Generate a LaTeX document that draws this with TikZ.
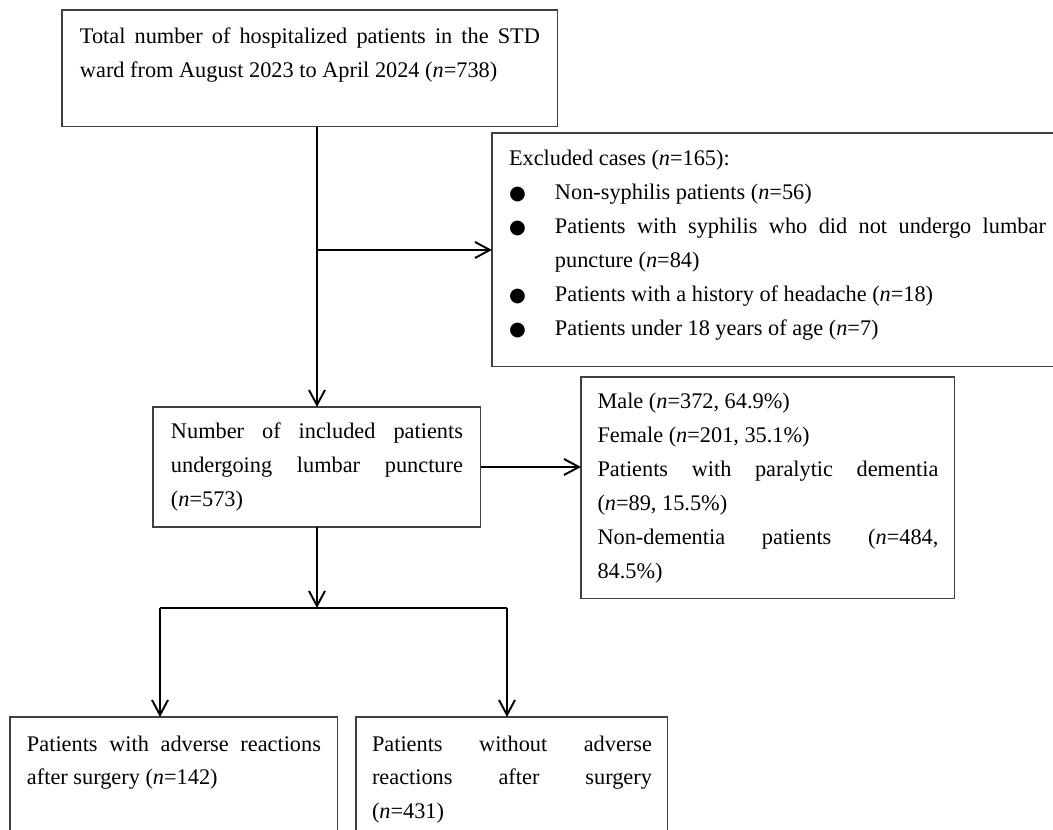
\documentclass[tikz,border=0pt]{standalone}
\usepackage{fontspec}
\setmainfont{Liberation Serif}
\newfontfamily\dejavu{DejaVu Sans}
\usetikzlibrary{arrows.meta}
\hyphenpenalty=10000
\exhyphenpenalty=10000
\newcommand{\bitem}[1]{\par\noindent\hangindent=0.92cm\hangafter=1\makebox[0.92cm][l]{\dejavu\fontsize{11}{19.3}\selectfont ●}#1}

\begin{document}
\begin{tikzpicture}
[x=0.02cm, y=-0.02cm,
Box/.style={rectangle,draw=black!75,line width=0.6pt,inner ysep=0pt,outer sep=0pt,anchor=north west,align=justify,
  font=\fontsize{12.7}{19.3}\selectfont},
Line/.style={line width=1.1pt},
Arr/.style={line width=1.1pt,-{Straight Barb[length=3mm,width=3.2mm]}}]

\useasboundingbox (0,0) rectangle (1053,830);

% boxes
\node[Box,inner xsep=0.36cm,text width=9.2cm,text height=0.68cm,text depth=1.66cm] (n1) at (62,10)
  {Total number of hospitalized patients in the STD\linebreak ward from August 2023 to April 2024 (\textit{n}=738)};
\node[Box,inner xsep=0.34cm,text width=10.74cm,text height=0.66cm,text depth=4.02cm] (n2) at (492,133)
  {\noindent Excluded cases (\textit{n}=165):
   \bitem{Non-syphilis patients (\textit{n}=56)}
   \bitem{Patients with syphilis who did not undergo lumbar\linebreak puncture (\textit{n}=84)}
   \bitem{Patients with a history of headache (\textit{n}=18)}
   \bitem{Patients under 18 years of age (\textit{n}=7)}};
\node[Box,inner xsep=0.36cm,text width=5.84cm,text height=0.64cm,text depth=1.76cm] (n3) at (153,407)
  {Number of included patients\linebreak undergoing lumbar puncture\linebreak (\textit{n}=573)};
\node[Box,inner xsep=0.33cm,text width=6.82cm,text height=0.64cm,text depth=3.8cm] (n4) at (581,377)
  {\noindent Male (\textit{n}=372, 64.9\%)\par
   \noindent Female (\textit{n}=201, 35.1\%)\par
   \noindent Patients with paralytic dementia\linebreak (\textit{n}=89, 15.5\%)\par
   \noindent Non-dementia patients (\textit{n}=484,\linebreak 84.5\%)};
\node[Box,inner xsep=0.34cm,text width=5.88cm,text height=0.68cm,text depth=3cm] (n5) at (10,717)
  {Patients with adverse reactions\linebreak after surgery (\textit{n}=142)};
\node[Box,inner xsep=0.32cm,text width=5.6cm,text height=0.68cm,text depth=3cm] (n6) at (356,717)
  {Patients without adverse\linebreak reactions after surgery\linebreak (\textit{n}=431)};

% arrows
\coordinate (c1) at (n3.north |- n2.west);
\draw[Arr] (n1.south -| n3.north) -- (n3.north);
\draw[Arr] (c1) -- (n2.west);
\draw[Arr] (n3.east) -- (n3.east -| n4.west);

% split
\path (n3.south) ++(0,81) coordinate (c2);
\coordinate (c3) at (160,608);
\coordinate (c4) at (507,608);
\draw[Arr] (n3.south) -- (c2);
\draw[Line] (c3) -- (c4);
\draw[Arr] (c3) -- (c3 |- n5.north);
\draw[Arr] (c4) -- (c4 |- n6.north);

\end{tikzpicture}
\end{document}
